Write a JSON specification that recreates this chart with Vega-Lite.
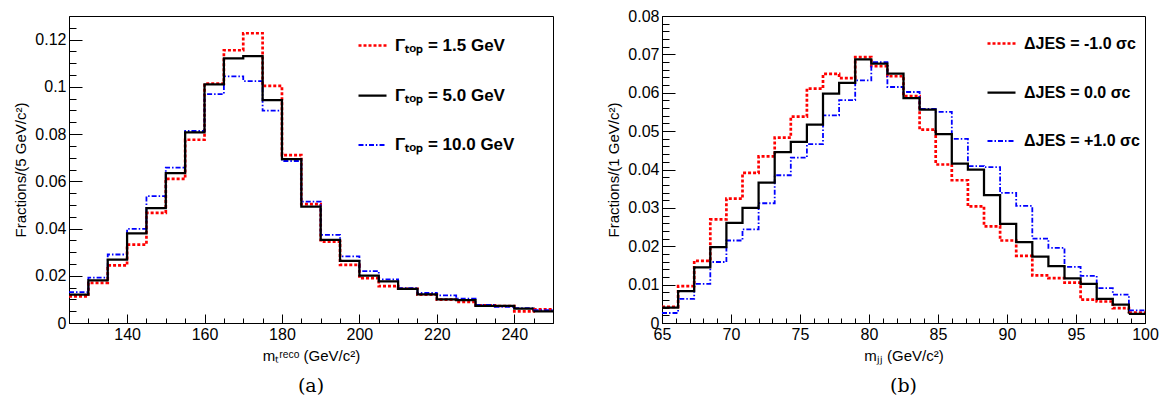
{
"$schema":"https://vega.github.io/schema/vega-lite/v6.json",
"background":"white",
"padding":{"left":13,"top":7,"right":10,"bottom":5},
"spacing":52,
"datasets":{
"top":[
{"s":"1.5","lo":125,"hi":130,"v":0.0113},{"s":"1.5","lo":130,"hi":135,"v":0.0170},{"s":"1.5","lo":135,"hi":140,"v":0.0244},{"s":"1.5","lo":140,"hi":145,"v":0.0332},{"s":"1.5","lo":145,"hi":150,"v":0.0466},{"s":"1.5","lo":150,"hi":155,"v":0.0610},{"s":"1.5","lo":155,"hi":160,"v":0.0776},{"s":"1.5","lo":160,"hi":165,"v":0.1014},{"s":"1.5","lo":165,"hi":170,"v":0.1155},{"s":"1.5","lo":170,"hi":175,"v":0.1227},{"s":"1.5","lo":175,"hi":180,"v":0.1004},{"s":"1.5","lo":180,"hi":185,"v":0.0711},{"s":"1.5","lo":185,"hi":190,"v":0.0503},{"s":"1.5","lo":190,"hi":195,"v":0.0345},{"s":"1.5","lo":195,"hi":200,"v":0.0246},{"s":"1.5","lo":200,"hi":205,"v":0.0190},{"s":"1.5","lo":205,"hi":210,"v":0.0156},{"s":"1.5","lo":210,"hi":215,"v":0.0145},{"s":"1.5","lo":215,"hi":220,"v":0.0120},{"s":"1.5","lo":220,"hi":225,"v":0.0099},{"s":"1.5","lo":225,"hi":230,"v":0.0089},{"s":"1.5","lo":230,"hi":235,"v":0.0075},{"s":"1.5","lo":235,"hi":240,"v":0.0072},{"s":"1.5","lo":240,"hi":245,"v":0.0049},{"s":"1.5","lo":245,"hi":250,"v":0.0058},
{"s":"10.0","lo":125,"hi":130,"v":0.0131},{"s":"10.0","lo":130,"hi":135,"v":0.0192},{"s":"10.0","lo":135,"hi":140,"v":0.0290},{"s":"10.0","lo":140,"hi":145,"v":0.0399},{"s":"10.0","lo":145,"hi":150,"v":0.0537},{"s":"10.0","lo":150,"hi":155,"v":0.0658},{"s":"10.0","lo":155,"hi":160,"v":0.0813},{"s":"10.0","lo":160,"hi":165,"v":0.0969},{"s":"10.0","lo":165,"hi":170,"v":0.1044},{"s":"10.0","lo":170,"hi":175,"v":0.1024},{"s":"10.0","lo":175,"hi":180,"v":0.0899},{"s":"10.0","lo":180,"hi":185,"v":0.0686},{"s":"10.0","lo":185,"hi":190,"v":0.0514},{"s":"10.0","lo":190,"hi":195,"v":0.0373},{"s":"10.0","lo":195,"hi":200,"v":0.0282},{"s":"10.0","lo":200,"hi":205,"v":0.0220},{"s":"10.0","lo":205,"hi":210,"v":0.0185},{"s":"10.0","lo":210,"hi":215,"v":0.0148},{"s":"10.0","lo":215,"hi":220,"v":0.0127},{"s":"10.0","lo":220,"hi":225,"v":0.0117},{"s":"10.0","lo":225,"hi":230,"v":0.0103},{"s":"10.0","lo":230,"hi":235,"v":0.0077},{"s":"10.0","lo":235,"hi":240,"v":0.0068},{"s":"10.0","lo":240,"hi":245,"v":0.0063},{"s":"10.0","lo":245,"hi":250,"v":0.0054},
{"s":"5.0","lo":125,"hi":130,"v":0.0120},{"s":"5.0","lo":130,"hi":135,"v":0.0180},{"s":"5.0","lo":135,"hi":140,"v":0.0268},{"s":"5.0","lo":140,"hi":145,"v":0.0379},{"s":"5.0","lo":145,"hi":150,"v":0.0486},{"s":"5.0","lo":150,"hi":155,"v":0.0635},{"s":"5.0","lo":155,"hi":160,"v":0.0807},{"s":"5.0","lo":160,"hi":165,"v":0.1010},{"s":"5.0","lo":165,"hi":170,"v":0.1121},{"s":"5.0","lo":170,"hi":175,"v":0.1130},{"s":"5.0","lo":175,"hi":180,"v":0.0944},{"s":"5.0","lo":180,"hi":185,"v":0.0694},{"s":"5.0","lo":185,"hi":190,"v":0.0493},{"s":"5.0","lo":190,"hi":195,"v":0.0352},{"s":"5.0","lo":195,"hi":200,"v":0.0263},{"s":"5.0","lo":200,"hi":205,"v":0.0201},{"s":"5.0","lo":205,"hi":210,"v":0.0176},{"s":"5.0","lo":210,"hi":215,"v":0.0144},{"s":"5.0","lo":215,"hi":220,"v":0.0121},{"s":"5.0","lo":220,"hi":225,"v":0.0100},{"s":"5.0","lo":225,"hi":230,"v":0.0097},{"s":"5.0","lo":230,"hi":235,"v":0.0073},{"s":"5.0","lo":235,"hi":240,"v":0.0072},{"s":"5.0","lo":240,"hi":245,"v":0.0061},{"s":"5.0","lo":245,"hi":250,"v":0.0049}
],
"jes":[
{"s":"-1.0","lo":65,"hi":66.1667,"v":0.0042},{"s":"-1.0","lo":66.1667,"hi":67.3333,"v":0.0096},{"s":"-1.0","lo":67.3333,"hi":68.5,"v":0.0162},{"s":"-1.0","lo":68.5,"hi":69.6667,"v":0.0270},{"s":"-1.0","lo":69.6667,"hi":70.8333,"v":0.0324},{"s":"-1.0","lo":70.8333,"hi":72,"v":0.0391},{"s":"-1.0","lo":72,"hi":73.1667,"v":0.0434},{"s":"-1.0","lo":73.1667,"hi":74.3333,"v":0.0483},{"s":"-1.0","lo":74.3333,"hi":75.5,"v":0.0538},{"s":"-1.0","lo":75.5,"hi":76.6667,"v":0.0611},{"s":"-1.0","lo":76.6667,"hi":77.8333,"v":0.0649},{"s":"-1.0","lo":77.8333,"hi":79,"v":0.0638},{"s":"-1.0","lo":79,"hi":80.1667,"v":0.0693},{"s":"-1.0","lo":80.1667,"hi":81.3333,"v":0.0669},{"s":"-1.0","lo":81.3333,"hi":82.5,"v":0.0643},{"s":"-1.0","lo":82.5,"hi":83.6667,"v":0.0591},{"s":"-1.0","lo":83.6667,"hi":84.8333,"v":0.0504},{"s":"-1.0","lo":84.8333,"hi":86,"v":0.0413},{"s":"-1.0","lo":86,"hi":87.1667,"v":0.0372},{"s":"-1.0","lo":87.1667,"hi":88.3333,"v":0.0304},{"s":"-1.0","lo":88.3333,"hi":89.5,"v":0.0252},{"s":"-1.0","lo":89.5,"hi":90.6667,"v":0.0215},{"s":"-1.0","lo":90.6667,"hi":91.8333,"v":0.0175},{"s":"-1.0","lo":91.8333,"hi":93,"v":0.0124},{"s":"-1.0","lo":93,"hi":94.1667,"v":0.0117},{"s":"-1.0","lo":94.1667,"hi":95.3333,"v":0.0105},{"s":"-1.0","lo":95.3333,"hi":96.5,"v":0.0061},{"s":"-1.0","lo":96.5,"hi":97.6667,"v":0.0056},{"s":"-1.0","lo":97.6667,"hi":98.8333,"v":0.0039},{"s":"-1.0","lo":98.8333,"hi":100,"v":0.0027},
{"s":"+1.0","lo":65,"hi":66.1667,"v":0.0026},{"s":"+1.0","lo":66.1667,"hi":67.3333,"v":0.0063},{"s":"+1.0","lo":67.3333,"hi":68.5,"v":0.0102},{"s":"+1.0","lo":68.5,"hi":69.6667,"v":0.0159},{"s":"+1.0","lo":69.6667,"hi":70.8333,"v":0.0215},{"s":"+1.0","lo":70.8333,"hi":72,"v":0.0244},{"s":"+1.0","lo":72,"hi":73.1667,"v":0.0312},{"s":"+1.0","lo":73.1667,"hi":74.3333,"v":0.0385},{"s":"+1.0","lo":74.3333,"hi":75.5,"v":0.0431},{"s":"+1.0","lo":75.5,"hi":76.6667,"v":0.0466},{"s":"+1.0","lo":76.6667,"hi":77.8333,"v":0.0541},{"s":"+1.0","lo":77.8333,"hi":79,"v":0.0581},{"s":"+1.0","lo":79,"hi":80.1667,"v":0.0632},{"s":"+1.0","lo":80.1667,"hi":81.3333,"v":0.0680},{"s":"+1.0","lo":81.3333,"hi":82.5,"v":0.0615},{"s":"+1.0","lo":82.5,"hi":83.6667,"v":0.0602},{"s":"+1.0","lo":83.6667,"hi":84.8333,"v":0.0558},{"s":"+1.0","lo":84.8333,"hi":86,"v":0.0550},{"s":"+1.0","lo":86,"hi":87.1667,"v":0.0480},{"s":"+1.0","lo":87.1667,"hi":88.3333,"v":0.0409},{"s":"+1.0","lo":88.3333,"hi":89.5,"v":0.0406},{"s":"+1.0","lo":89.5,"hi":90.6667,"v":0.0339},{"s":"+1.0","lo":90.6667,"hi":91.8333,"v":0.0305},{"s":"+1.0","lo":91.8333,"hi":93,"v":0.0220},{"s":"+1.0","lo":93,"hi":94.1667,"v":0.0196},{"s":"+1.0","lo":94.1667,"hi":95.3333,"v":0.0146},{"s":"+1.0","lo":95.3333,"hi":96.5,"v":0.0123},{"s":"+1.0","lo":96.5,"hi":97.6667,"v":0.0091},{"s":"+1.0","lo":97.6667,"hi":98.8333,"v":0.0074},{"s":"+1.0","lo":98.8333,"hi":100,"v":0.0033},
{"s":"0.0","lo":65,"hi":66.1667,"v":0.0040},{"s":"0.0","lo":66.1667,"hi":67.3333,"v":0.0083},{"s":"0.0","lo":67.3333,"hi":68.5,"v":0.0145},{"s":"0.0","lo":68.5,"hi":69.6667,"v":0.0198},{"s":"0.0","lo":69.6667,"hi":70.8333,"v":0.0261},{"s":"0.0","lo":70.8333,"hi":72,"v":0.0300},{"s":"0.0","lo":72,"hi":73.1667,"v":0.0366},{"s":"0.0","lo":73.1667,"hi":74.3333,"v":0.0445},{"s":"0.0","lo":74.3333,"hi":75.5,"v":0.0472},{"s":"0.0","lo":75.5,"hi":76.6667,"v":0.0517},{"s":"0.0","lo":76.6667,"hi":77.8333,"v":0.0598},{"s":"0.0","lo":77.8333,"hi":79,"v":0.0626},{"s":"0.0","lo":79,"hi":80.1667,"v":0.0687},{"s":"0.0","lo":80.1667,"hi":81.3333,"v":0.0676},{"s":"0.0","lo":81.3333,"hi":82.5,"v":0.0650},{"s":"0.0","lo":82.5,"hi":83.6667,"v":0.0586},{"s":"0.0","lo":83.6667,"hi":84.8333,"v":0.0556},{"s":"0.0","lo":84.8333,"hi":86,"v":0.0492},{"s":"0.0","lo":86,"hi":87.1667,"v":0.0415},{"s":"0.0","lo":87.1667,"hi":88.3333,"v":0.0400},{"s":"0.0","lo":88.3333,"hi":89.5,"v":0.0333},{"s":"0.0","lo":89.5,"hi":90.6667,"v":0.0258},{"s":"0.0","lo":90.6667,"hi":91.8333,"v":0.0211},{"s":"0.0","lo":91.8333,"hi":93,"v":0.0173},{"s":"0.0","lo":93,"hi":94.1667,"v":0.0148},{"s":"0.0","lo":94.1667,"hi":95.3333,"v":0.0116},{"s":"0.0","lo":95.3333,"hi":96.5,"v":0.0102},{"s":"0.0","lo":96.5,"hi":97.6667,"v":0.0063},{"s":"0.0","lo":97.6667,"hi":98.8333,"v":0.0048},{"s":"0.0","lo":98.8333,"hi":100,"v":0.0024}
]
},
"resolve":{"scale":{"x":"independent","y":"independent","color":"independent","strokeDash":"independent","strokeWidth":"independent"},"legend":{"color":"independent","strokeDash":"independent"}},
"hconcat":[
{
"width":484,"height":307,
"data":{"name":"top"},
"title":{"text":"(a)","orient":"bottom","font":"DejaVu Serif","fontSize":19,"fontWeight":"normal","offset":14},
"resolve":{"axis":{"x":"independent","y":"independent"}},
"layer":[
{"mark":{"type":"line","interpolate":"step-after","clip":true},
"encoding":{
"x":{"field":"lo","type":"quantitative","scale":{"domain":[125,250],"nice":false,"zero":false},
"axis":{"orient":"bottom","title":"mₜʳᵉᶜᵒ (GeV/c²)","values":[140,160,180,200,220,240],"tickSize":-9,"labelOverlap":false}},
"y":{"field":"v","type":"quantitative","scale":{"domain":[0,0.13],"nice":false,"zero":true},
"axis":{"orient":"left","title":"Fractions/(5 GeV/c²)","values":[0,0.02,0.04,0.06,0.08,0.1,0.12],"format":".2~f","tickSize":-13,"labelOverlap":false}},
"color":{"field":"s","type":"nominal","scale":{"domain":["1.5","5.0","10.0"],"range":["#ff0000","#000000","#0000ff"]},
"legend":{"title":null,"orient":"none","legendX":288,"legendY":14,"labelFontSize":17,"rowPadding":26,"labelExpr":"'Γₜₒₚ = ' + datum.label + ' GeV'"}},
"strokeDash":{"field":"s","type":"nominal","scale":{"domain":["1.5","5.0","10.0"],"range":[[3,2],[1,0],[5,2,1.5,2]]},"legend":{"title":null,"orient":"none","legendX":288,"legendY":14,"labelFontSize":17,"rowPadding":26,"labelExpr":"'Γₜₒₚ = ' + datum.label + ' GeV'"}},
"strokeWidth":{"field":"s","type":"nominal","scale":{"domain":["1.5","5.0","10.0"],"range":[2.7,1.8,2.3]},"legend":null}
}},
{"transform":[{"filter":"datum.hi == 250"}],
"mark":{"type":"rule","clip":true},
"encoding":{
"x":{"field":"lo","type":"quantitative",
"axis":{"orient":"bottom","title":null,"values":[125,130,135,145,150,155,165,170,175,185,190,195,205,210,215,225,230,235,245,250],"tickSize":-5,"labels":false,"domain":false}},
"x2":{"field":"hi"},
"y":{"field":"v","type":"quantitative",
"axis":{"orient":"left","title":null,"values":[0.005,0.01,0.015,0.025,0.03,0.035,0.045,0.05,0.055,0.065,0.07,0.075,0.085,0.09,0.095,0.105,0.11,0.115,0.125],"tickSize":-7,"labels":false,"domain":false}},
"color":{"field":"s","type":"nominal"},
"strokeDash":{"field":"s","type":"nominal"},
"strokeWidth":{"field":"s","type":"nominal","legend":null}
}}
]
},
{
"width":483,"height":307,
"data":{"name":"jes"},
"title":{"text":"(b)","orient":"bottom","font":"DejaVu Serif","fontSize":19,"fontWeight":"normal","offset":14},
"resolve":{"axis":{"x":"independent","y":"independent"}},
"layer":[
{"mark":{"type":"line","interpolate":"step-after","clip":true},
"encoding":{
"x":{"field":"lo","type":"quantitative","scale":{"domain":[65,100],"nice":false,"zero":false},
"axis":{"orient":"bottom","title":"mⱼⱼ (GeV/c²)","values":[65,70,75,80,85,90,95,100],"tickSize":-9,"labelOverlap":false}},
"y":{"field":"v","type":"quantitative","scale":{"domain":[0,0.08],"nice":false,"zero":true},
"axis":{"orient":"left","title":"Fractions/(1 GeV/c²)","values":[0,0.01,0.02,0.03,0.04,0.05,0.06,0.07,0.08],"format":".2~f","tickSize":-13,"labelOverlap":false}},
"color":{"field":"s","type":"nominal","scale":{"domain":["-1.0","0.0","+1.0"],"range":["#ff0000","#000000","#0000ff"]},
"legend":{"title":null,"orient":"none","legendX":324,"legendY":12,"labelFontSize":16,"rowPadding":25,"labelExpr":"'ΔJES = ' + datum.label + ' σc'"}},
"strokeDash":{"field":"s","type":"nominal","scale":{"domain":["-1.0","0.0","+1.0"],"range":[[3,2],[1,0],[5,2,1.5,2]]},"legend":{"title":null,"orient":"none","legendX":324,"legendY":12,"labelFontSize":16,"rowPadding":25,"labelExpr":"'ΔJES = ' + datum.label + ' σc'"}},
"strokeWidth":{"field":"s","type":"nominal","scale":{"domain":["-1.0","0.0","+1.0"],"range":[2.7,1.8,2.3]},"legend":null}
}},
{"transform":[{"filter":"datum.hi == 100"}],
"mark":{"type":"rule","clip":true},
"encoding":{
"x":{"field":"lo","type":"quantitative",
"axis":{"orient":"bottom","title":null,"values":[66,67,68,69,71,72,73,74,76,77,78,79,81,82,83,84,86,87,88,89,91,92,93,94,96,97,98,99],"tickSize":-5,"labels":false,"domain":false}},
"x2":{"field":"hi"},
"y":{"field":"v","type":"quantitative",
"axis":{"orient":"left","title":null,"values":[0.002,0.004,0.006,0.008,0.012,0.014,0.016,0.018,0.022,0.024,0.026,0.028,0.032,0.034,0.036,0.038,0.042,0.044,0.046,0.048,0.052,0.054,0.056,0.058,0.062,0.064,0.066,0.068,0.072,0.074,0.076,0.078],"tickSize":-7,"labels":false,"domain":false}},
"color":{"field":"s","type":"nominal"},
"strokeDash":{"field":"s","type":"nominal"},
"strokeWidth":{"field":"s","type":"nominal","legend":null}
}}
]
}
],
"config":{
"font":"Liberation Sans",
"view":{"stroke":"black","strokeWidth":1},
"axis":{"grid":false,"ticks":true,"tickColor":"black","tickWidth":1,"labelFlush":false,"labelBound":false,"domainColor":"black","labelColor":"black","titleColor":"black","labelFontSize":16,"titleFontSize":15,"titleFontWeight":"normal","labelFont":"Liberation Sans","titleFont":"Liberation Sans","domainWidth":1},
"axisX":{"labelPadding":12,"titlePadding":6},
"axisY":{"labelPadding":16,"titlePadding":6},
"legend":{"symbolType":"stroke","symbolSize":784,"symbolStrokeWidth":2.5,"labelFontSize":16,"labelFontWeight":"bold","labelColor":"black","labelFont":"Liberation Sans","rowPadding":22,"labelOffset":7,"padding":0},
"title":{"color":"black"}
}
}
